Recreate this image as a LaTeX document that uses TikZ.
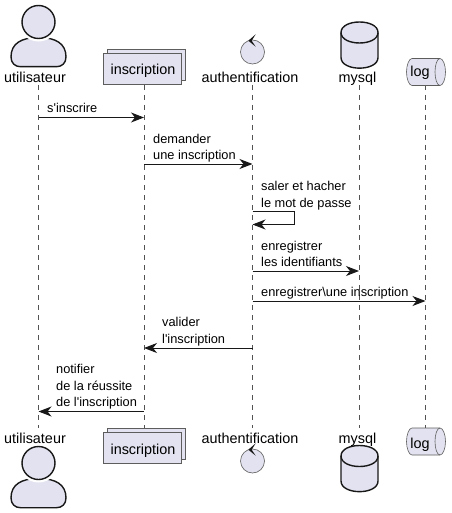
\documentclass[tikz,border=0pt]{standalone}
\usepackage{fontspec}
\newfontfamily\lib{Liberation Sans}
\usetikzlibrary{arrows.meta}
\definecolor{pfill}{HTML}{E2E2F0}
\definecolor{pline}{HTML}{181818}
\tikzset{
  life/.style={pline!75,line width=0.5pt,dash pattern=on 5pt off 5pt},
  msg/.style={pline,line width=1pt,-{Stealth[length=13pt,width=10pt,inset=4pt]}},
  msglabel/.style={inner sep=0pt,anchor=base west,align=left,font=\lib\fontsize{12.8}{16.3}\selectfont,text=black},
  plabel/.style={inner sep=0pt,anchor=base,font=\lib\fontsize{14.4}{16}\selectfont,text=black},
  thinshape/.style={draw=pline!70,fill=pfill,line width=0.6pt},
  thickshape/.style={draw=pline,fill=pfill,line width=1.4pt},
  pics/actorfig/.style={code={
    \path[thickshape,line join=round] (-27.5,35) .. controls (-27.5,22) and (-18,15.5) .. (0,15.5)
      .. controls (18,15.5) and (27.5,22) .. (27.5,35)
      .. controls (27.5,41) and (23.5,44.7) .. (18,44.7) -- (-18,44.7)
      .. controls (-23.5,44.7) and (-27.5,41) .. (-27.5,35) -- cycle;
    \path[draw=white,line width=3pt] (0,0) circle[radius=18];
    \path[thickshape] (0,0) circle[radius=16.5];
  }},
  pics/dbfig/.style={code={
    \path[thickshape] (-18.5,-11.5) .. controls (-18.5,-25.5) and (18.5,-25.5) .. (18.5,-11.5)
      -- (18.5,13.5) .. controls (18.5,27.7) and (-18.5,27.7) .. (-18.5,13.5) -- cycle;
    \path[draw=pline,line width=1.4pt] (-18.5,-11.5) .. controls (-18.5,2.5) and (18.5,2.5) .. (18.5,-11.5);
  }},
  pics/ctrlfig/.style={code={
    \path[thinshape] (0,0) circle[radius=12];
    \path[fill=pline] (-4.2,-11.3) -- (3.2,-17.7) -- (-0.8,-11.3) -- (3.2,-5.3) -- cycle;
  }},
  pics/logfig/.style={code={
    \path[thinshape] (-14,-13.5) -- (14,-13.5) .. controls (17,-13.5) and (19.5,-7) .. (19.5,0)
      .. controls (19.5,7) and (17,13.5) .. (14,13.5) -- (-14,13.5)
      .. controls (-17,13.5) and (-19.5,7) .. (-19.5,0)
      .. controls (-19.5,-7) and (-17,-13.5) .. (-14,-13.5) -- cycle;
    \path[draw=pline!70,line width=0.6pt] (14,-13.5) .. controls (11,-13.5) and (9,-7) .. (9,0)
      .. controls (9,7) and (11,13.5) .. (14,13.5);
  }},
}
\begin{document}
\begin{tikzpicture}[x=1pt,y=-1pt]
\useasboundingbox (0,0) rectangle (451,513);
% lifeline ends
\coordinate (uT) at (38.5,85);  \coordinate (uB) at (38.5,428);
\coordinate (iT) at (144,85);   \coordinate (iB) at (144,428);
\coordinate (aT) at (252.5,85); \coordinate (aB) at (252.5,428);
\coordinate (mT) at (359.5,85); \coordinate (mB) at (359.5,428);
\coordinate (lT) at (425.5,85); \coordinate (lB) at (425.5,428);
\draw[life] (uT) -- (uB);
\draw[life] (iT) -- (iB);
\draw[life] (aT) -- (aB);
\draw[life] (mT) -- (mB);
\draw[life] (lT) -- (lB);
% top participants
\pic at (38.5,22) {actorfig};
\node[plabel] (ulabT) at (35,83) {utilisateur};
\path[thinshape] (107.5,49.5) rectangle (185.5,80);
\path[thinshape] (103.5,53.5) rectangle (181.5,84);
\node[plabel] (ilabT) at (143,75) {inscription};
\pic at (252.5,52) {ctrlfig};
\node[plabel] (alabT) at (250,83) {authentification};
\pic at (359.5,44) {dbfig};
\node[plabel] (mlabT) at (357.5,83) {mysql};
\pic at (426,72) {logfig};
\node[plabel] (llabT) at (420,77) {log};
% bottom participants
\pic at (38.5,463) {actorfig};
\node[plabel] (ulabB) at (35,443) {utilisateur};
\path[thinshape] (107.5,428) rectangle (185.5,459);
\path[thinshape] (103.5,432) rectangle (181.5,463);
\node[plabel] (ilabB) at (143,454) {inscription};
\pic at (252.5,461) {ctrlfig};
\node[plabel] (alabB) at (250,443) {authentification};
\pic at (359.5,467.5) {dbfig};
\node[plabel] (mlabB) at (357.5,443) {mysql};
\pic at (426,441.5) {logfig};
\node[plabel] (llabB) at (420,448) {log};
% message anchors
\coordinate (m1a) at (38.5,117.5); \coordinate (m1b) at (144,117.5);
\coordinate (m2a) at (144,164);    \coordinate (m2b) at (252.5,164);
\coordinate (m3a) at (252.5,211);  \coordinate (m3c) at (294.5,211);
\coordinate (m3d) at (294.5,224.5);\coordinate (m3b) at (252.5,224.5);
\coordinate (m4a) at (252.5,271);  \coordinate (m4b) at (359,271);
\coordinate (m5a) at (252.5,301);  \coordinate (m5b) at (425.5,301);
\coordinate (m6a) at (252.5,348);  \coordinate (m6b) at (144,348);
\coordinate (m7a) at (144,411.5);  \coordinate (m7b) at (38.5,411.5);
\draw[msg] (m1a) -- (m1b);
\draw[msg] (m2a) -- (m2b);
\draw[msg] (m3a) -- (m3c) -- (m3d) -- (m3b);
\draw[msg] (m4a) -- (m4b);
\draw[msg] (m5a) -- (m5b);
\draw[msg] (m6a) -- (m6b);
\draw[msg] (m7a) -- (m7b);
% message labels
\node[msglabel] (t1) at (47,113) {s'inscrire};
\node[msglabel] (t2) at (153,160) {demander\\une inscription};
\node[msglabel] (t3) at (261,207) {saler et hacher\\le mot de passe};
\node[msglabel] (t4) at (261,266.5) {enregistrer\\les identifiants};
\node[msglabel] (t5) at (261,296.5) {enregistrer\textbackslash une inscription};
\node[msglabel] (t6) at (162,343) {valider\\l'inscription};
\node[msglabel] (t7) at (56,406.5) {notifier\\de la réussite\\de l'inscription};
\end{tikzpicture}
\end{document}
